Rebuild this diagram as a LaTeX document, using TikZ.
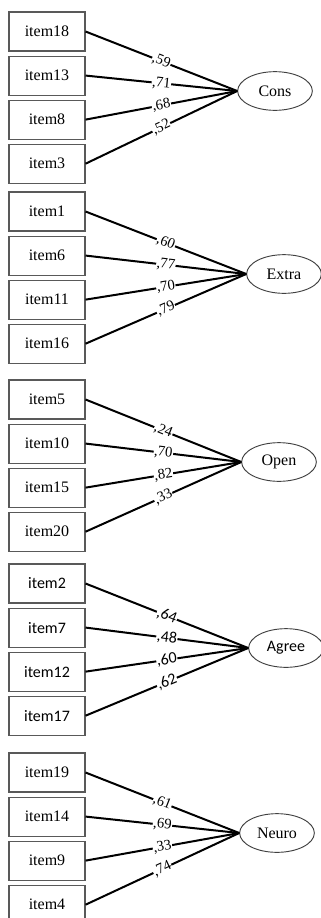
\documentclass[tikz,border=0pt]{standalone}
\usepackage{fontspec}
\setmainfont{Liberation Serif}
\newfontfamily\calibrifont{Carlito}
\usetikzlibrary{positioning,shapes.geometric}

\begin{document}
\begin{tikzpicture}[x=0.75pt,y=-0.75pt,-,node distance=3pt,
    item node/.style={rectangle,draw=black!65,line width=0.8pt,minimum width=57pt,minimum height=29.25pt,inner sep=0pt,font=\fontsize{12}{14}\selectfont},
    factor node/.style={ellipse,draw=black!75,line width=0.7pt,minimum width=56pt,minimum height=29pt,inner sep=0pt,font=\fontsize{12}{14}\selectfont},
    sans/.style={font=\calibrifont\fontsize{12}{14}\selectfont},
    load/.style={line width=1.5pt},
    coef/.style={sloped,fill=white,inner sep=0.4pt,font=\fontsize{11}{12}\selectfont}]
    \useasboundingbox (0,0) rectangle (321,918);

    % Cons
    \node[item node] (i18) at (47,31.5) {item18};
    \node[item node] (i13) [below=of i18] {item13};
    \node[item node] (i8) [below=of i13] {item8};
    \node[item node] (i3) [below=of i8] {item3};
    \node[factor node] (cons) at (275,91) {Cons};

    % Extra
    \node[item node] (i1) at (47,211.5) {item1};
    \node[item node] (i6) [below=of i1] {item6};
    \node[item node] (i11) [below=of i6] {item11};
    \node[item node] (i16) [below=of i11] {item16};
    \node[factor node] (extra) at (284,274) {Extra};

    % Open
    \node[item node] (i5) at (47,399.5) {item5};
    \node[item node] (i10) [below=of i5] {item10};
    \node[item node] (i15) [below=of i10] {item15};
    \node[item node] (i20) [below=of i15] {item20};
    \node[factor node] (open) at (279,462) {Open};

    % Agree
    \node[item node,sans] (i2) at (47,583.5) {item2};
    \node[item node,sans] (i7) [below=of i2] {item7};
    \node[item node,sans] (i12) [below=of i7] {item12};
    \node[item node,sans] (i17) [below=of i12] {item17};
    \node[factor node,sans] (agree) at (286,648) {Agree};

    % Neuro
    \node[item node] (i19) at (47,772.5) {item19};
    \node[item node] (i14) [below=of i19] {item14};
    \node[item node] (i9) [below=of i14] {item9};
    \node[item node] (i4) [below=of i9] {item4};
    \node[factor node] (neuro) at (277,833) {Neuro};

    \path[load]
        (i18.east) edge node[coef] {,59} (cons.west)
        (i13.east) edge node[coef] {,71} (cons.west)
        (i8.east) edge node[coef] {,68} (cons.west)
        (i3.east) edge node[coef] {,52} (cons.west)
        (i1.east) edge node[coef] {,60} (extra.west)
        (i6.east) edge node[coef] {,77} (extra.west)
        (i11.east) edge node[coef] {,70} (extra.west)
        (i16.east) edge node[coef] {,79} (extra.west)
        (i5.east) edge node[coef] {,24} (open.west)
        (i10.east) edge node[coef] {,70} (open.west)
        (i15.east) edge node[coef] {,82} (open.west)
        (i20.east) edge node[coef] {,33} (open.west)
        (i2.east) edge node[coef,sans] {,64} (agree.west)
        (i7.east) edge node[coef,sans] {,48} (agree.west)
        (i12.east) edge node[coef,sans] {,60} (agree.west)
        (i17.east) edge node[coef,sans] {,62} (agree.west)
        (i19.east) edge node[coef] {,61} (neuro.west)
        (i14.east) edge node[coef] {,69} (neuro.west)
        (i9.east) edge node[coef] {,33} (neuro.west)
        (i4.east) edge node[coef] {,74} (neuro.west)
        ;
\end{tikzpicture}
\end{document}
